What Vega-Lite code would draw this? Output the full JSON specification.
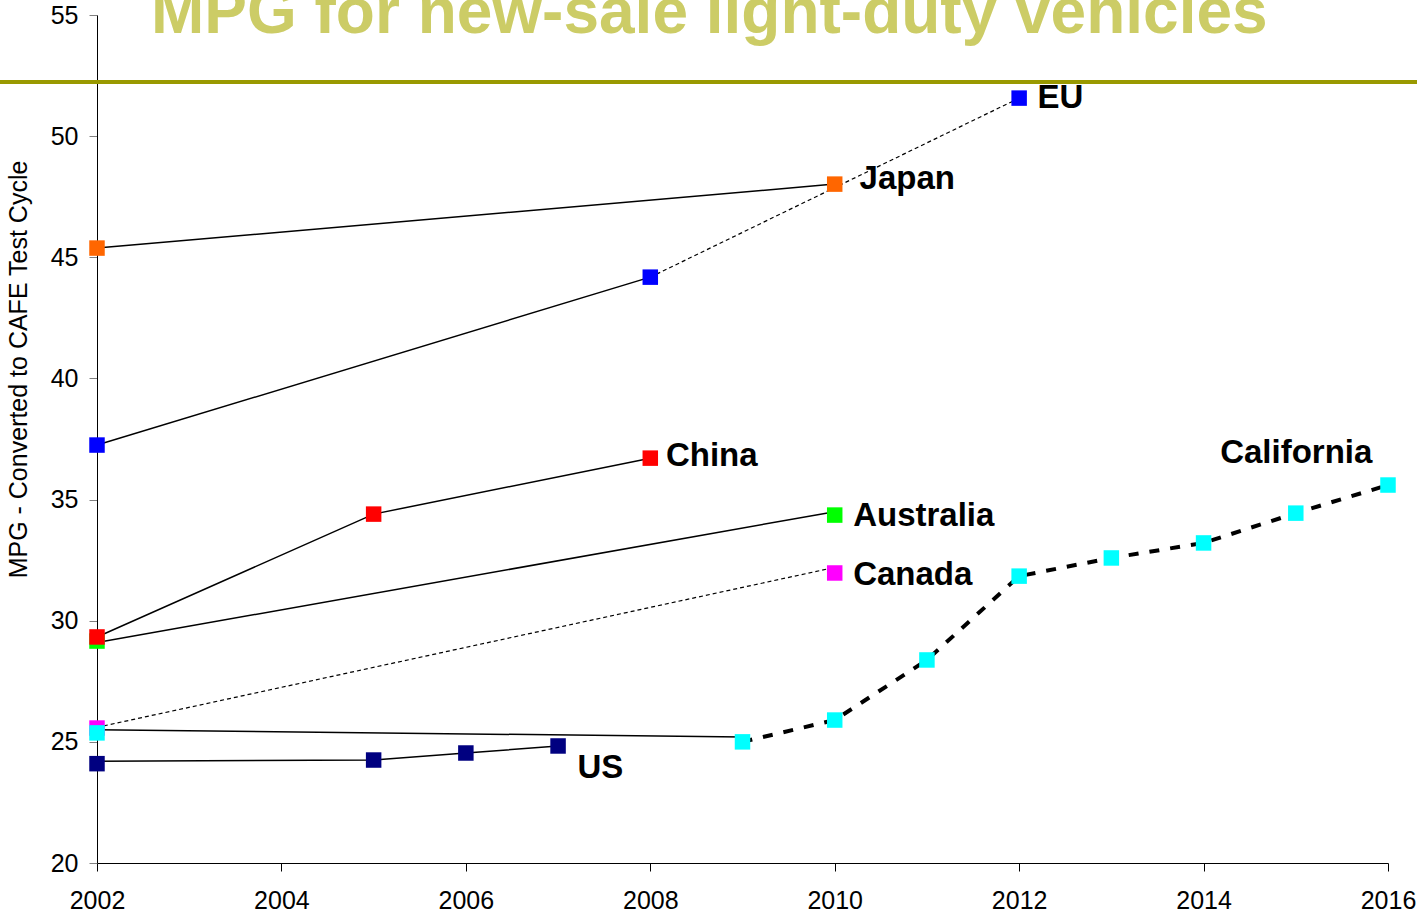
{
  "$schema": "https://vega.github.io/schema/vega-lite/v6.json",
  "width": 1291,
  "height": 848,
  "autosize": {"type": "none"},
  "padding": {"left": 97, "top": 15, "right": 29, "bottom": 53},
  "background": "white",
  "config": {"view": {"stroke": null}, "font": "Liberation Sans"},
  "datasets": {
    "points": [
      {"series": "Japan", "year": 2002, "mpg": 45.38},
      {"series": "Japan", "year": 2010, "mpg": 48.02},
      {"series": "EU", "year": 2002, "mpg": 37.25},
      {"series": "EU", "year": 2008, "mpg": 44.18},
      {"series": "EU", "year": 2012, "mpg": 51.57},
      {"series": "Australia", "year": 2002, "mpg": 29.16},
      {"series": "Australia", "year": 2010, "mpg": 34.36},
      {"series": "China", "year": 2002, "mpg": 29.33},
      {"series": "China", "year": 2005, "mpg": 34.4},
      {"series": "China", "year": 2008, "mpg": 36.71},
      {"series": "Canada", "year": 2002, "mpg": 25.57},
      {"series": "Canada", "year": 2010, "mpg": 31.97},
      {"series": "California", "year": 2002, "mpg": 25.37},
      {"series": "California", "year": 2009, "mpg": 25.0},
      {"series": "California", "year": 2010, "mpg": 25.9},
      {"series": "California", "year": 2011, "mpg": 28.38},
      {"series": "California", "year": 2012, "mpg": 31.84},
      {"series": "California", "year": 2013, "mpg": 32.59},
      {"series": "California", "year": 2014, "mpg": 33.21},
      {"series": "California", "year": 2015, "mpg": 34.44},
      {"series": "California", "year": 2016, "mpg": 35.6},
      {"series": "US", "year": 2002, "mpg": 24.1},
      {"series": "US", "year": 2005, "mpg": 24.25},
      {"series": "US", "year": 2006, "mpg": 24.54},
      {"series": "US", "year": 2007, "mpg": 24.83}
    ],
    "segments": [
      {"seg": "jp", "style": "solid", "year": 2002, "mpg": 45.38},
      {"seg": "jp", "style": "solid", "year": 2010, "mpg": 48.02},
      {"seg": "eu1", "style": "solid", "year": 2002, "mpg": 37.25},
      {"seg": "eu1", "style": "solid", "year": 2008, "mpg": 44.18},
      {"seg": "eu2", "style": "dash", "year": 2008, "mpg": 44.18},
      {"seg": "eu2", "style": "dash", "year": 2012, "mpg": 51.57},
      {"seg": "cn", "style": "solid", "year": 2002, "mpg": 29.33},
      {"seg": "cn", "style": "solid", "year": 2005, "mpg": 34.4},
      {"seg": "cn", "style": "solid", "year": 2008, "mpg": 36.71},
      {"seg": "au", "style": "solid", "year": 2002, "mpg": 29.1},
      {"seg": "au", "style": "solid", "year": 2010, "mpg": 34.5},
      {"seg": "ca", "style": "dash", "year": 2002, "mpg": 25.6},
      {"seg": "ca", "style": "dash", "year": 2010, "mpg": 32.2},
      {"seg": "cal1", "style": "solid", "year": 2002, "mpg": 25.5},
      {"seg": "cal1", "style": "solid", "year": 2009, "mpg": 25.2},
      {"seg": "cal2", "style": "thick", "year": 2009, "mpg": 25.0},
      {"seg": "cal2", "style": "thick", "year": 2010, "mpg": 25.9},
      {"seg": "cal2", "style": "thick", "year": 2011, "mpg": 28.38},
      {"seg": "cal2", "style": "thick", "year": 2012, "mpg": 31.84},
      {"seg": "cal2", "style": "thick", "year": 2013, "mpg": 32.59},
      {"seg": "cal2", "style": "thick", "year": 2014, "mpg": 33.21},
      {"seg": "cal2", "style": "thick", "year": 2015, "mpg": 34.44},
      {"seg": "cal2", "style": "thick", "year": 2016, "mpg": 35.6},
      {"seg": "us", "style": "solid", "year": 2002, "mpg": 24.2},
      {"seg": "us", "style": "solid", "year": 2005, "mpg": 24.25},
      {"seg": "us", "style": "solid", "year": 2006, "mpg": 24.54},
      {"seg": "us", "style": "solid", "year": 2007, "mpg": 24.83}
    ],
    "labels": [
      {"label": "EU", "year": 2012.2, "mpg": 51.57},
      {"label": "Japan", "year": 2010.27, "mpg": 48.23},
      {"label": "China", "year": 2008.17, "mpg": 36.8},
      {"label": "Australia", "year": 2010.2, "mpg": 34.32},
      {"label": "Canada", "year": 2010.2, "mpg": 31.89},
      {"label": "California", "year": 2014.18, "mpg": 36.92},
      {"label": "US", "year": 2007.21, "mpg": 23.92}
    ]
  },
  "layer": [
    {
      "data": {"name": "segments"},
      "transform": [{"filter": "datum.style === 'solid'"}],
      "mark": {"type": "line", "color": "black", "strokeWidth": 1.5},
      "encoding": {
        "x": {
          "field": "year", "type": "quantitative",
          "scale": {"domain": [2002, 2016], "nice": false, "zero": false},
          "axis": {
            "values": [2002, 2004, 2006, 2008, 2010, 2012, 2014, 2016],
            "format": "d",
            "title": null,
            "grid": false,
            "domainColor": "black",
            "domainWidth": 1,
            "tickColor": "black",
            "tickSize": 8,
            "labelFontSize": 25,
            "labelColor": "black",
            "labelPadding": 17,
            "labelFlush": false,
            "labelOverlap": false,
            "labelFont": "Liberation Sans"
          }
        },
        "y": {
          "field": "mpg", "type": "quantitative",
          "scale": {"domain": [20, 55], "nice": false, "zero": false},
          "axis": {
            "values": [20, 25, 30, 35, 40, 45, 50, 55],
            "title": "MPG - Converted to CAFE Test Cycle",
            "titleFontSize": 25,
            "titleFontWeight": "normal",
            "titleColor": "black",
            "titleFont": "Liberation Sans",
            "titleX": -79,
            "titleY": 354,
            "titleAlign": "center",
            "titleBaseline": "middle",
            "titleAngle": 270,
            "grid": false,
            "domainColor": "black",
            "domainWidth": 1,
            "tickColor": "#808080",
            "tickSize": 8,
            "labelFontSize": 25,
            "labelColor": "black",
            "labelPadding": 11,
            "labelFlush": false,
            "labelOverlap": false,
            "labelFont": "Liberation Sans"
          }
        },
        "detail": {"field": "seg", "type": "nominal"}
      }
    },
    {
      "data": {"name": "segments"},
      "transform": [{"filter": "datum.style === 'dash'"}],
      "mark": {"type": "line", "color": "black", "strokeWidth": 1.2, "strokeDash": [4, 3]},
      "encoding": {
        "x": {"field": "year", "type": "quantitative", "scale": {"domain": [2002, 2016], "nice": false, "zero": false}},
        "y": {"field": "mpg", "type": "quantitative", "scale": {"domain": [20, 55], "nice": false, "zero": false}},
        "detail": {"field": "seg", "type": "nominal"}
      }
    },
    {
      "data": {"name": "segments"},
      "transform": [{"filter": "datum.style === 'thick'"}],
      "mark": {"type": "line", "color": "black", "strokeWidth": 4, "strokeDash": [10, 11]},
      "encoding": {
        "x": {"field": "year", "type": "quantitative", "scale": {"domain": [2002, 2016], "nice": false, "zero": false}},
        "y": {"field": "mpg", "type": "quantitative", "scale": {"domain": [20, 55], "nice": false, "zero": false}},
        "detail": {"field": "seg", "type": "nominal"}
      }
    },
    {
      "data": {"name": "points"},
      "mark": {"type": "point", "shape": "square", "filled": true, "opacity": 1, "size": 240, "strokeWidth": 0},
      "encoding": {
        "x": {"field": "year", "type": "quantitative", "scale": {"domain": [2002, 2016], "nice": false, "zero": false}},
        "y": {"field": "mpg", "type": "quantitative", "scale": {"domain": [20, 55], "nice": false, "zero": false}},
        "color": {
          "field": "series", "type": "nominal", "legend": null,
          "scale": {
            "domain": ["Japan", "EU", "Australia", "China", "Canada", "California", "US"],
            "range": ["#FF6600", "#0000FF", "#00FF00", "#FF0000", "#FF00FF", "#00FFFF", "#000080"]
          }
        }
      }
    },
    {
      "data": {"name": "labels"},
      "mark": {"type": "text", "align": "left", "baseline": "middle", "fontSize": 33, "fontWeight": "bold", "color": "black", "font": "Liberation Sans"},
      "encoding": {
        "x": {"field": "year", "type": "quantitative", "scale": {"domain": [2002, 2016], "nice": false, "zero": false}},
        "y": {"field": "mpg", "type": "quantitative", "scale": {"domain": [20, 55], "nice": false, "zero": false}},
        "text": {"field": "label", "type": "nominal"}
      }
    },
    {
      "data": {"values": [{}]},
      "mark": {"type": "rule", "color": "#999900", "strokeWidth": 4, "clip": false},
      "encoding": {
        "x": {"datum": 2000.9, "type": "quantitative", "scale": {"domain": [2002, 2016], "nice": false, "zero": false}},
        "x2": {"datum": 2016.4},
        "y": {"datum": 52.23, "type": "quantitative", "scale": {"domain": [20, 55], "nice": false, "zero": false}}
      }
    },
    {
      "data": {"values": [{"title": "MPG for new-sale light-duty vehicles"}]},
      "mark": {"type": "text", "align": "center", "baseline": "alphabetic", "fontSize": 64, "fontWeight": "bold", "color": "#CCCC66", "font": "Liberation Sans", "clip": false},
      "encoding": {
        "x": {"datum": 2008.64, "type": "quantitative", "scale": {"domain": [2002, 2016], "nice": false, "zero": false}},
        "y": {"datum": 54.25, "type": "quantitative", "scale": {"domain": [20, 55], "nice": false, "zero": false}},
        "text": {"field": "title", "type": "nominal"}
      }
    }
  ]
}
